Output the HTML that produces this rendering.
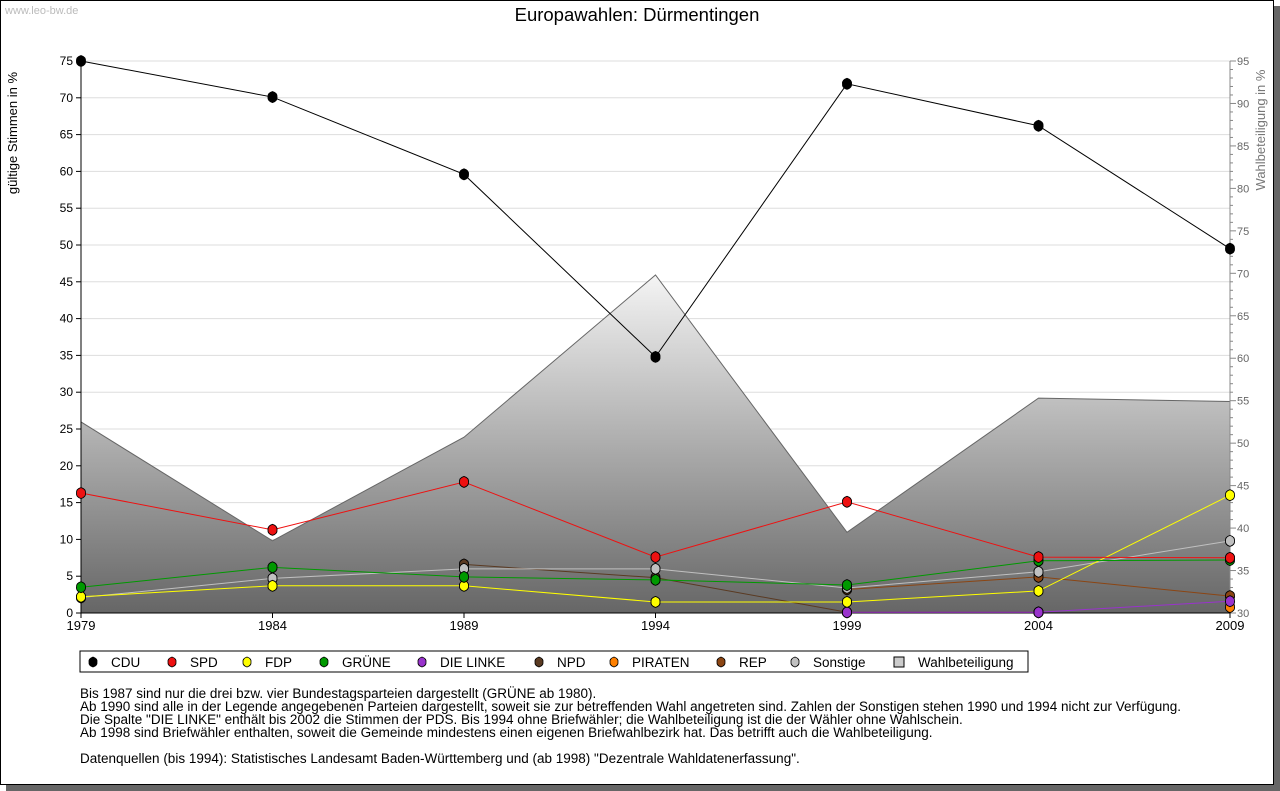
<!DOCTYPE html>
<html><head><meta charset="utf-8"><style>
body{margin:0;background:#fff;width:1280px;height:791px;overflow:hidden;font-family:"Liberation Sans","DejaVu Sans",sans-serif}
#frame{position:absolute;left:0;top:0;width:1272px;height:783px;border:1px solid #000;background:#fff;box-shadow:6px 6px 0 #666}
.note{position:absolute;left:80px;font-size:13.5px;color:#000;white-space:nowrap}
</style></head><body>
<div id="frame"></div>
<svg id="chart" width="1280" height="791" style="position:absolute;left:0;top:0">
<defs><linearGradient id="wg" x1="0" y1="0" x2="0" y2="1">
<stop offset="0" stop-color="#f4f4f4"/><stop offset="1" stop-color="#666666"/></linearGradient></defs>
<text x="5" y="14" font-size="11" fill="#bbb">www.leo-bw.de</text>
<text x="637" y="21" font-size="18.5" text-anchor="middle">Europawahlen: Dürmentingen</text>
<text transform="translate(17,133) rotate(-90)" font-size="13" text-anchor="middle">gültige Stimmen in %</text>
<text transform="translate(1265,130) rotate(-90)" font-size="13" fill="#777" text-anchor="middle">Wahlbeteiligung in %</text>
<g id="grid"></g><g id="area"></g><g id="axes"></g><g id="lines"></g>
<rect x="80" y="651" width="948" height="21" fill="#fff" stroke="#000"/>
<g id="legend"></g>
</svg>
<div class="note" style="top:686px">Bis 1987 sind nur die drei bzw. vier Bundestagsparteien dargestellt (GRÜNE ab 1980).</div>
<div class="note" style="top:699px">Ab 1990 sind alle in der Legende angegebenen Parteien dargestellt, soweit sie zur betreffenden Wahl angetreten sind. Zahlen der Sonstigen stehen 1990 und 1994 nicht zur Verfügung.</div>
<div class="note" style="top:712px">Die Spalte "DIE LINKE" enthält bis 2002 die Stimmen der PDS. Bis 1994 ohne Briefwähler; die Wahlbeteiligung ist die der Wähler ohne Wahlschein.</div>
<div class="note" style="top:725px">Ab 1998 sind Briefwähler enthalten, soweit die Gemeinde mindestens einen eigenen Briefwahlbezirk hat. Das betrifft auch die Wahlbeteiligung.</div>
<div class="note" style="top:751px">Datenquellen (bis 1994): Statistisches Landesamt Baden-Württemberg und (ab 1998) "Dezentrale Wahldatenerfassung".</div>
<script>
const years=[1979,1984,1989,1994,1999,2004,2009];
const cdu=[75,70.1,59.6,34.8,71.9,66.2,49.5];
const spd=[16.3,11.3,17.8,7.6,15.1,7.6,7.5];
const fdp=[2.2,3.7,3.7,1.5,1.5,3.0,16.0];
const gruene=[3.5,6.2,4.9,4.5,3.8,7.1,7.2];
const linke=[null,null,null,null,0.1,0.1,1.6];
const npd=[null,null,6.6,4.8,0.1,0.1,null];
const piraten=[null,null,null,null,null,null,0.8];
const rep=[null,null,null,null,3.2,4.9,2.3];
const sonstige=[2.1,4.7,6.0,6.0,3.4,5.6,9.8];
const turnout=[52.5,38.5,50.7,69.8,39.5,55.3,54.9];
const leftTicks=[0,5,10,15,20,25,30,35,40,45,50,55,60,65,70,75];
const rightTicks=[30,35,40,45,50,55,60,65,70,75,80,85,90,95];
const NS='http://www.w3.org/2000/svg';
const X0=81,X1=1230,YB=613,YT=61;
const xs=i=>X0+(X1-X0)*(years[i]-years[0])/(years[years.length-1]-years[0]);
const yL=v=>YB-(YB-YT)*v/75;
const yR=v=>YB-(YB-YT)*(v-30)/65;
function el(t,a,p){const e=document.createElementNS(NS,t);for(const k in a)e.setAttribute(k,a[k]);document.getElementById(p).appendChild(e);return e;}
leftTicks.forEach(v=>{
 if(v>0){const g=el('line',{x1:X0,x2:X1,y1:yL(v),y2:yL(v),stroke:'#ddd'},'grid');
 
 }
 const t=el('text',{x:73,y:yL(v)+4,'font-size':12,'text-anchor':'end'},'axes');t.textContent=v;
 
 
 el('line',{x1:76,x2:X0,y1:yL(v),y2:yL(v),stroke:'#000'},'axes');
});
for(let v=30;v<=95;v++){el('line',{x1:X1,x2:X1+(v%5?3:6),y1:yR(v),y2:yR(v),stroke:'#888'},'axes');}
rightTicks.forEach(v=>{const t=el('text',{x:1237,y:yR(v)+4,'font-size':11,fill:'#666'},'axes');t.textContent=v;
 
 });
let d='M'+X0+','+YB;turnout.forEach((v,i)=>d+=' L'+xs(i)+','+yR(v));d+=' L'+X1+','+YB+' Z';
const ar=el('path',{d:d,fill:'url(#wg)',stroke:'#666','stroke-width':1},'area');


el('line',{x1:X0,x2:X0,y1:YT,y2:YB,stroke:'#000'},'axes');
el('line',{x1:X1,x2:X1,y1:YT,y2:YB,stroke:'#888'},'axes');
el('line',{x1:X0,x2:X1,y1:YB,y2:YB,stroke:'#000'},'axes');
years.forEach((y,i)=>{el('line',{x1:xs(i),x2:xs(i),y1:YB,y2:YB+5,stroke:'#000'},'axes');
 const t=el('text',{x:xs(i),y:YB+17,'font-size':13,'text-anchor':'middle'},'axes');t.textContent=y;
 
 });
const series=[['rep',rep,'#8b4513'],['piraten',piraten,'#ff8000'],['npd',npd,'#5a3a22'],['linke',linke,'#9933cc'],['sonstige',sonstige,'#c0c0c0'],['fdp',fdp,'#ffff00'],['gruene',gruene,'#009900'],['spd',spd,'#ee1111'],['cdu',cdu,'#000000']];
series.forEach(([n,arr,c])=>{
 let p='';arr.forEach((v,i)=>{if(v!==null)p+=(p?' L':'M')+xs(i)+','+yL(v);});
 const l=el('path',{d:p,fill:'none',stroke:c,'stroke-width':1},'lines');
 
 
 arr.forEach((v,i)=>{if(v===null)return;const x=xs(i),y=yL(v);
  const m=el('path',{d:`M${x},${y-5.5}Q${x+5},${y-4} ${x+4.5},${y}Q${x+5},${y+4} ${x},${y+5.5}Q${x-5},${y+4} ${x-4.5},${y}Q${x-5},${y-4} ${x},${y-5.5}Z`,fill:c,stroke:'#000','stroke-width':0.9},'lines');
  
  });
});
const leg=[['CDU','#000',93],['SPD','#ee1111',172],['FDP','#ffff00',247],['GRÜNE','#009900',324],['DIE LINKE','#9933cc',422],['NPD','#5a3a22',539],['PIRATEN','#ff8000',614],['REP','#8b4513',721],['Sonstige','#c0c0c0',795]];
leg.forEach(([n,c,x])=>{const y=662;
 const m=el('path',{d:`M${x},${y-5}Q${x+4.5},${y-3.5} ${x+4},${y}Q${x+4.5},${y+3.5} ${x},${y+5}Q${x-4.5},${y+3.5} ${x-4},${y}Q${x-4.5},${y-3.5} ${x},${y-5}Z`,fill:c,stroke:'#000','stroke-width':0.8},'legend');
 
 
 const t=el('text',{x:x+18,y:y+5,'font-size':13.5},'legend');t.textContent=n;
 
 });
const r=el('rect',{x:894,y:657,width:10,height:10,fill:'#ccc',stroke:'#000'},'legend');


const wt=el('text',{x:918,y:667,'font-size':13.5},'legend');wt.textContent='Wahlbeteiligung';


</script>
</body></html>
